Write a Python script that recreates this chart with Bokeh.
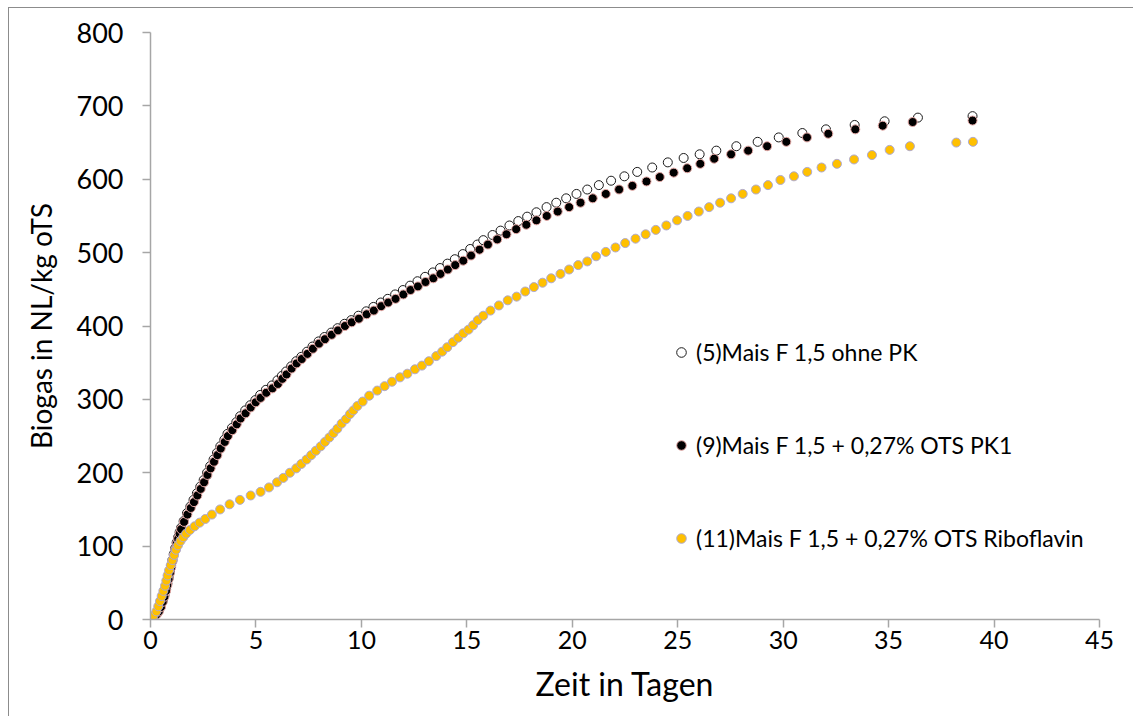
from bokeh.plotting import figure
from bokeh.models import Range1d, FixedTicker, Legend, LegendItem, ColumnDataSource
from bokeh.embed import file_html
from bokeh.resources import INLINE

x_ticks = [0, 5, 10, 15, 20, 25, 30, 35, 40, 45]
y_ticks = [0, 100, 200, 300, 400, 500, 600, 700, 800]

x_title = "Zeit in Tagen"
y_title = "Biogas in NL/kg oTS"

label_5 = "(5)Mais F 1,5 ohne PK"
label_9 = "(9)Mais F 1,5 + 0,27% OTS PK1"
label_11 = "(11)Mais F 1,5 + 0,27% OTS Riboflavin"

# (day, NL/kg oTS)
series_5 = [(0,0),(0.15,4),(0.3,8),(0.4,13),(0.5,19),(0.58,26),(0.66,33),(0.74,41),(0.8,49),(0.86,57),
            (0.92,65),(0.98,73),(1.04,81),(1.1,89),(1.17,97),(1.24,105),(1.31,112),(1.38,119),(1.45,125),
            (1.57,134),(1.73,145),(1.89,154),(2.04,163),(2.20,172),(2.36,181),(2.52,190),(2.68,200),(2.83,209),
            (2.99,218),(3.15,227),(3.31,236),(3.50,245),(3.65,253),(3.86,261),(4.07,269),(4.25,277),(4.49,285),
            (4.73,292),(4.97,299),(5.20,306),(5.47,313),(5.76,319),(6.02,326),(6.23,332),(6.43,338),(6.67,345),
            (6.91,352),(7.15,358),(7.42,365),(7.68,372),(7.97,379),(8.25,385),(8.57,391),(8.87,397),(9.20,403),
            (9.52,408),(9.86,414),(10.23,420),(10.57,426),(10.92,432),(11.25,437),(11.60,443),(11.97,449),
            (12.31,455),(12.66,461),(13.02,467),(13.39,473),(13.73,479),(14.08,485),(14.43,491),(14.81,498),
            (15.16,505),(15.5,511),(15.78,517),(16.22,524),(16.6,530),(17.02,537),(17.44,543),(17.86,549),
            (18.3,555),(18.78,562),(19.24,568),(19.71,574),(20.2,580),(20.71,586),(21.26,592),(21.84,598),
            (22.47,604),(23.08,610),(23.79,616),(24.53,623),(25.28,629),(26.04,634),(26.83,639),(27.78,645),
            (28.79,651),(29.79,657),(30.91,663),(32.03,668),(33.39,674),(34.81,679),(36.39,684),(38.98,686)]

series_9 = [(0,0),(0.15,3),(0.3,7),(0.4,11),(0.5,17),(0.58,24),(0.66,31),(0.74,39),(0.8,47),(0.86,55),
            (0.92,63),(0.98,71),(1.04,79),(1.1,87),(1.17,95),(1.24,103),(1.31,110),(1.38,117),(1.45,123),
            (1.59,133),(1.75,143),(1.91,152),(2.06,160),(2.22,169),(2.38,178),(2.54,187),(2.70,197),(2.85,206),
            (3.01,215),(3.17,224),(3.33,233),(3.52,242),(3.67,250),(3.88,258),(4.09,266),(4.27,274),(4.51,281),
            (4.75,289),(4.99,296),(5.22,302),(5.49,309),(5.78,315),(6.04,321),(6.25,328),(6.45,334),(6.69,342),
            (6.93,349),(7.17,355),(7.44,362),(7.70,369),(7.99,376),(8.27,382),(8.59,388),(8.89,394),(9.22,400),
            (9.54,405),(9.88,410),(10.25,416),(10.59,421),(10.94,427),(11.27,432),(11.62,437),(11.99,443),
            (12.33,449),(12.68,454),(13.04,460),(13.41,465),(13.75,471),(14.10,477),(14.45,483),(14.83,489),
            (15.2,496),(15.6,504),(16.0,511),(16.44,518),(16.88,525),(17.34,532),(17.82,538),(18.3,544),
            (18.79,550),(19.31,556),(19.85,562),(20.39,568),(20.97,574),(21.59,580),(22.22,586),(22.85,591),
            (23.52,597),(24.15,603),(24.81,609),(25.45,615),(26.07,621),(26.73,628),(27.53,634),(28.34,639),
            (29.24,645),(30.15,651),(31.13,657),(32.14,662),(33.42,668),(34.72,673),(36.14,678),(38.98,680)]

series_11 = [(0,0),(0.14,5),(0.28,11),(0.37,18),(0.45,25),(0.53,32),(0.61,39),(0.69,46),(0.75,53),(0.81,60),
             (0.88,67),(0.96,74),(1.04,81),(1.12,88),(1.21,95),(1.30,101),(1.42,107),(1.55,112),(1.69,117),
             (1.87,122),(2.09,127),(2.33,132),(2.60,137),(2.91,143),(3.30,150),(3.75,157),(4.24,163),(4.75,169),
             (5.22,174),(5.62,180),(6.00,187),(6.30,193),(6.61,200),(6.91,206),(7.15,212),(7.40,218),(7.62,224),
             (7.84,230),(8.07,236),(8.27,242),(8.48,248),(8.67,254),(8.86,260),(9.06,267),(9.27,273),(9.46,280),
             (9.62,285),(9.81,291),(10.06,297),(10.37,305),(10.75,312),(11.10,318),(11.45,324),(11.83,330),
             (12.18,335),(12.54,341),(12.87,346),(13.20,352),(13.55,359),(13.83,365),(14.07,371),(14.34,378),
             (14.59,384),(14.83,390),(15.08,395),(15.30,401),(15.52,408),(15.78,414),(16.12,421),(16.52,428),
             (16.94,435),(17.36,440),(17.77,447),(18.18,453),(18.59,459),(19.0,465),(19.44,471),(19.85,477),
             (20.28,483),(20.71,488),(21.13,495),(21.59,501),(22.05,507),(22.51,513),(23.0,519),(23.48,525),
             (23.96,531),(24.46,537),(24.97,544),(25.47,550),(26.0,556),(26.49,562),(27.01,568),(27.53,574),
             (28.08,580),(28.71,586),(29.28,592),(29.87,599),(30.51,604),(31.14,610),(31.82,616),(32.55,621),
             (33.36,627),(34.21,633),(35.05,640),(36.01,645),(38.21,650),(39.0,651)]

FONT = "Lato"

p = figure(width=1125, height=709, output_backend="svg", toolbar_location=None,
           x_range=Range1d(0, 45), y_range=Range1d(0, 800),
           min_border_left=141, min_border_right=35, min_border_top=24, min_border_bottom=98)
p.styles = {"margin-left": "8px", "margin-top": "7px",
            "border-left": "1px solid #8c8c8c", "border-top": "1px solid #8c8c8c"}
p.background_fill_color = "white"
p.border_fill_color = "white"
p.outline_line_color = None
p.xgrid.visible = False
p.ygrid.visible = False

for ax in (p.xaxis[0], p.yaxis[0]):
    ax.axis_line_color = "#a6a6a6"
    ax.axis_line_width = 1.5
    ax.major_tick_line_color = "#a6a6a6"
    ax.major_tick_line_width = 1.5
    ax.major_tick_in = 0
    ax.major_tick_out = 8
    ax.minor_tick_line_color = None
    ax.major_label_text_font = FONT
    ax.major_label_text_color = "black"
    ax.axis_label_text_font = FONT
    ax.axis_label_text_font_style = "normal"
    ax.axis_label_text_color = "black"

p.xaxis[0].ticker = FixedTicker(ticks=x_ticks)
p.yaxis[0].ticker = FixedTicker(ticks=y_ticks)
p.xaxis[0].major_label_text_font_size = "25px"
p.yaxis[0].major_label_text_font_size = "27px"
p.xaxis[0].major_label_standoff = 3
p.yaxis[0].major_label_standoff = 19
p.xaxis[0].axis_label = x_title
p.yaxis[0].axis_label = y_title
p.xaxis[0].axis_label_text_font_size = "32px"
p.yaxis[0].axis_label_text_font_size = "28px"
p.xaxis[0].axis_label_standoff = 12
p.yaxis[0].axis_label_standoff = 16


def src(series):
    return ColumnDataSource(dict(day=[d for d, _ in series], gas=[g for _, g in series]))


r5 = p.scatter("day", "gas", source=src(series_5), size=9, fill_color="white",
               line_color="#1a1a1a", line_width=1)
r9 = p.scatter("day", "gas", source=src(series_9), size=9, fill_color="black",
               line_color="#e6a9a6", line_width=1)
r11 = p.scatter("day", "gas", source=src(series_11), size=9, fill_color="#ffc000",
                line_color="#ada9d2", line_width=1)

legend = Legend(items=[LegendItem(label=label_5, renderers=[r5]),
                       LegendItem(label=label_9, renderers=[r9]),
                       LegendItem(label=label_11, renderers=[r11])],
                location=(519, 67), orientation="vertical")
legend.glyph_width = 24
legend.glyph_height = 28
legend.label_height = 28
legend.spacing = 65
legend.padding = 0
legend.margin = 0
legend.label_standoff = 3
legend.border_line_color = None
legend.background_fill_alpha = 0
legend.label_text_font = FONT
legend.label_text_font_size = "23px"
legend.label_text_color = "black"
p.add_layout(legend)

open("out.html", "w").write(file_html(p, INLINE))
